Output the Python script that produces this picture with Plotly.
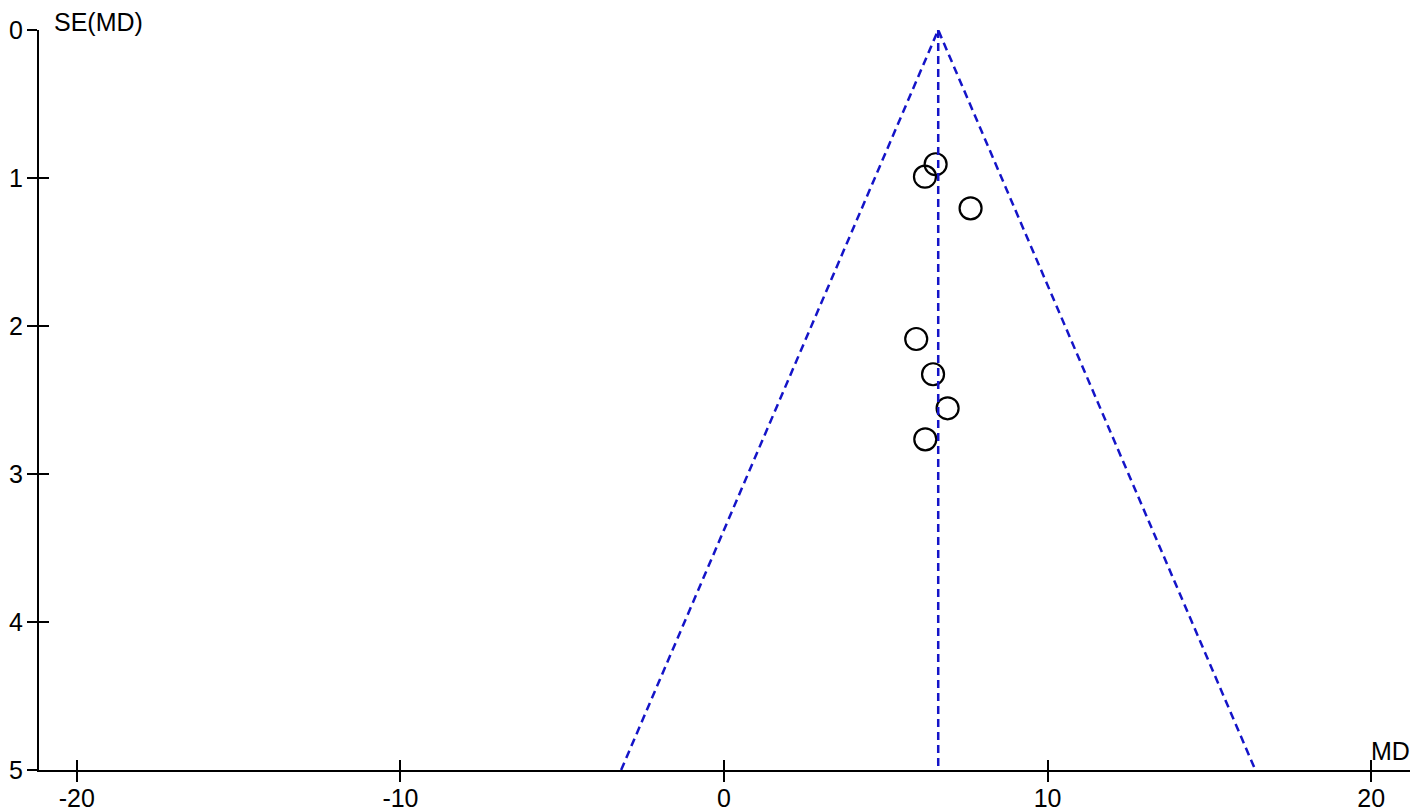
import plotly.graph_objects as go

# study estimates (mean difference) and their standard errors
md = [6.54, 6.21, 7.62, 5.94, 6.46, 6.91, 6.22]
se = [0.907, 0.991, 1.205, 2.088, 2.326, 2.556, 2.766]

pooled = 6.62
se_max = 5
x_ticks = [-20, -10, 0, 10, 20]
x_labels = ["-20", "-10", "0", "10", "20"]
y_ticks = [0, 1, 2, 3, 4, 5]

blue = "#1414C8"
font = dict(family="Liberation Sans, Arial", size=25, color="black")

fig = go.Figure()

# pseudo 95% confidence limits
fig.add_trace(go.Scatter(
    x=[pooled - 1.96 * se_max, pooled, pooled + 1.96 * se_max],
    y=[se_max, 0, se_max],
    mode="lines", line=dict(color=blue, width=2.5, dash="8px,5px"),
    hoverinfo="skip", showlegend=False))

# pooled estimate line
fig.add_trace(go.Scatter(
    x=[pooled, pooled], y=[0, se_max],
    mode="lines", line=dict(color=blue, width=2.5, dash="8px,5px"),
    hoverinfo="skip", showlegend=False, xaxis="x2", yaxis="y2"))

fig.add_trace(go.Scatter(
    x=md, y=se, mode="markers",
    marker=dict(symbol="circle-open", size=22, color="black", line=dict(width=2.2)),
    showlegend=False))

xr = [-21.17, 21.2]
yr = [se_max, 0]
axis_common = dict(showgrid=False, zeroline=False, showline=True, automargin=False,
                   linecolor="black", linewidth=2, tickcolor="black",
                   tickwidth=2, ticklen=10, tickfont=font)

# the page adds an 8px body margin, so margins are shifted to compensate
fig.update_layout(
    width=1418, height=812,
    margin=dict(l=31, r=16, t=22, b=50, autoexpand=False),
    plot_bgcolor="white", paper_bgcolor="white",
    xaxis=dict(range=xr, tickvals=x_ticks, ticktext=x_labels, ticks="outside",
               ticklabelstandoff=-5, **axis_common),
    yaxis=dict(range=yr, tickvals=y_ticks, ticks="outside",
               ticklabelstandoff=-1, **axis_common),
    xaxis2=dict(range=xr, tickvals=x_ticks, ticks="inside", overlaying="x",
                anchor="y2", side="bottom", showticklabels=False, **axis_common),
    yaxis2=dict(range=yr, tickvals=y_ticks, ticks="inside", overlaying="y",
                anchor="x2", side="left", showticklabels=False, **axis_common),
    annotations=[
        dict(text="SE(MD)", xref="paper", yref="paper", x=0, y=1,
             xanchor="left", yanchor="middle", xshift=14, yshift=8,
             borderpad=0, showarrow=False, font=font),
        dict(text="MD", xref="paper", yref="paper", x=1, y=0,
             xanchor="right", yanchor="bottom", xshift=2, yshift=3,
             showarrow=False, font=font),
    ],
)

fig.write_html("out.html")
